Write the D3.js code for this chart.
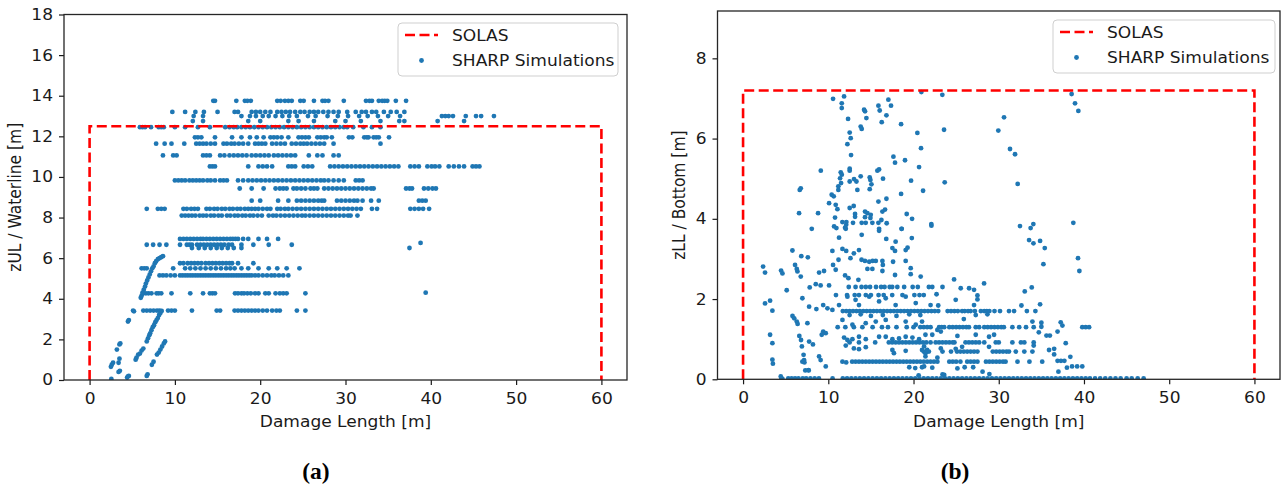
<!DOCTYPE html>
<html><head><meta charset="utf-8">
<script src="https://cdn.jsdelivr.net/npm/d3@7"></script>
<style>body{margin:0;background:#fff}svg{display:block}</style>
</head><body>
<svg id="c" width="1284" height="490"></svg>
<script>
// ---------- DATA ----------
const xTicks = [0, 10, 20, 30, 40, 50, 60];
const zulTicks = [0, 2, 4, 6, 8, 10, 12, 14, 16, 18];
const zllTicks = [0, 2, 4, 6, 8];
const solasLenX = [0, 0, 60, 60];
const solasZulY = [0, 12.5, 12.5, 0];
const solasZllY = [0, 7.2, 7.2, 0];
const legendLabels = ["SOLAS", "SHARP Simulations"];
const panelLetters = ["(a)", "(b)"];
const axisLabels = ["Damage Length [m]", "zUL / Waterline [m]", "zLL / Bottom [m]"];

// (a) zUL: horizontal bands of simulations (level, damage lengths)
const zulLevels = [13.75, 13.2, 13.0, 12.75, 12.45, 11.95, 11.64, 11.06, 10.52, 9.83, 9.43, 8.83, 8.43, 8.1, 6.95, 6.66, 6.5, 5.75, 5.5, 5.15, 4.27, 3.42];
const zulRowsX = [
  [14.5, 14.7, 17.2, 18.2, 18.5, 18.9, 22.0, 22.4, 22.9, 23.3, 23.7, 24.7, 25.1, 26.3, 27.3, 27.6, 28.0, 29.8, 32.4, 32.8, 33.1, 33.9, 34.3, 34.6, 34.9, 35.9, 37.1],
  [9.7, 11.2, 12.4, 13.4, 15.0, 17.0, 17.4, 19.0, 19.5, 20.0, 20.6, 21.2, 22.0, 22.5, 23.0, 23.5, 24.1, 24.7, 25.2, 25.8, 26.3, 26.8, 27.4, 28.0, 28.6, 29.2, 30.2, 31.2, 31.9, 32.4, 33.1, 33.6, 34.5, 35.3, 36.0, 36.9],
  [12.2, 13.3, 17.8, 18.8, 19.5, 20.3, 21.0, 21.8, 22.6, 23.4, 24.3, 25.6, 26.5, 27.9, 29.1, 30.3, 31.6, 32.6, 33.8, 35.0, 36.4, 41.3, 41.7, 42.1, 42.6, 44.1, 45.3, 45.9, 47.4],
  [12.1, 13.3, 18.6, 20.0, 23.3, 24.5, 26.3, 28.8, 30.0, 31.8, 34.1, 36.3, 36.9, 40.8, 43.9],
  [5.9, 6.2, 6.5, 7.2, 8.1, 8.4, 8.7, 10.0, 11.2, 12.7, 14.1, 15.9, 16.4, 16.9, 17.3, 17.8, 18.3, 18.8, 19.3, 19.8, 20.3, 20.8, 21.3, 21.8, 22.3, 22.8, 23.3, 23.8, 24.3, 24.8, 25.3, 25.8, 26.3, 26.8, 27.3, 27.8, 28.3, 28.8, 29.3, 29.8, 30.2, 30.9, 32.1, 33.1, 34.1],
  [12.35, 12.7, 13.1, 14.7, 16.7, 17.8, 18.8, 19.6, 20.4, 21.2, 21.6, 22.0, 22.5, 23.3, 24.5, 24.9, 25.3, 25.7, 26.7, 27.1, 27.5, 27.8, 28.4, 30.4, 30.8, 32.2, 32.5, 32.7, 33.3, 33.6, 33.9, 35.1],
  [7.8, 8.8, 9.6, 11.1, 12.5, 12.9, 13.3, 13.7, 14.2, 14.7, 15.7, 16.1, 16.6, 17.0, 17.5, 18.0, 18.6, 19.4, 19.8, 20.2, 20.6, 21.4, 21.9, 22.4, 22.9, 23.7, 24.2, 24.7, 25.1, 25.5, 26.0, 26.5, 27.0, 27.5, 28.6, 34.1],
  [8.6, 9.8, 10.2, 13.3, 13.7, 14.1, 15.3, 15.8, 16.4, 16.9, 17.4, 17.9, 18.4, 19.0, 19.5, 20.0, 20.5, 21.0, 21.6, 22.1, 22.6, 23.1, 23.6, 24.1, 25.7, 26.7, 27.3, 28.6, 29.2],
  [14.1, 14.4, 14.7, 18.6, 19.8, 20.3, 20.8, 21.4, 23.3, 23.7, 24.1, 25.1, 25.6, 26.1, 28.2, 28.7, 29.2, 29.7, 30.2, 30.7, 31.2, 31.7, 32.2, 32.7, 33.2, 33.7, 34.2, 34.7, 35.2, 35.7, 36.2, 37.6, 38.1, 38.6, 39.6, 40.1, 40.5, 41.0, 42.1, 42.7, 43.3, 43.9, 44.9, 45.3, 45.7],
  [10.0, 10.4, 10.8, 11.2, 11.7, 12.1, 12.5, 12.9, 13.3, 13.8, 14.2, 14.7, 15.3, 15.7, 16.1, 17.4, 18.0, 18.6, 19.1, 19.6, 20.1, 20.6, 21.1, 21.6, 22.1, 22.6, 23.1, 23.6, 24.1, 24.6, 25.1, 25.6, 26.1, 26.6, 27.1, 27.5, 28.0, 28.6, 29.2, 29.8, 31.2, 31.6, 32.0],
  [17.6, 19.0, 20.4, 21.8, 22.3, 22.7, 23.1, 23.9, 24.3, 24.8, 25.3, 25.9, 26.3, 26.7, 27.5, 28.0, 28.5, 29.0, 29.5, 30.0, 30.5, 31.0, 31.5, 32.0, 32.5, 33.0, 33.3, 37.1, 37.5, 37.8, 39.2, 39.7, 40.2, 40.6],
  [19.0, 20.0, 22.1, 23.3, 24.3, 24.8, 25.3, 25.8, 26.3, 26.8, 27.2, 27.5, 29.0, 29.5, 30.0, 30.5, 31.0, 31.4, 32.0, 33.0, 33.9, 38.6, 39.0, 39.4],
  [6.7, 8.0, 8.4, 8.8, 11.0, 11.4, 11.9, 12.3, 12.7, 13.7, 14.1, 14.6, 15.0, 15.5, 15.9, 16.4, 16.8, 17.3, 17.7, 18.2, 18.6, 19.0, 19.4, 19.8, 20.3, 20.8, 21.2, 22.0, 22.4, 22.9, 23.3, 23.8, 24.3, 24.8, 25.3, 25.8, 26.3, 26.8, 27.3, 27.8, 28.3, 28.8, 29.3, 29.8, 30.3, 30.8, 31.3, 31.8, 33.1, 33.7, 37.6, 38.1, 38.6, 39.1, 39.8],
  [10.8, 11.2, 11.6, 12.0, 12.4, 12.9, 13.3, 13.7, 14.2, 14.6, 15.1, 15.5, 16.1, 16.5, 17.0, 17.4, 17.9, 18.3, 18.8, 19.2, 19.7, 20.2, 21.0, 21.5, 21.9, 22.4, 22.9, 23.4, 23.9, 24.4, 24.9, 25.3, 25.8, 26.3, 26.8, 27.3, 27.8, 28.3, 28.8, 29.3, 29.8, 30.3, 30.6, 31.4],
  [10.6, 11.0, 11.4, 11.8, 12.2, 12.6, 13.0, 13.3, 13.7, 14.1, 14.5, 14.9, 15.3, 15.7, 16.1, 16.5, 16.8, 17.1, 17.4, 18.0, 18.6, 19.8, 20.8, 22.1],
  [6.7, 7.45, 8.2, 9.0, 10.6, 11.4, 11.7, 12.0, 12.6, 13.0, 13.4, 13.8, 14.2, 14.6, 15.0, 15.4, 15.8, 16.3, 16.7, 17.8, 19.2, 21.0, 23.7],
  [12.0, 12.8, 13.5, 14.2, 14.9, 15.5, 16.2, 16.9, 17.8],
  [10.6, 11.0, 11.5, 11.9, 12.3, 12.7, 13.1, 13.6, 14.0, 14.4, 14.8, 15.2, 15.6, 16.0, 16.4, 16.7, 17.4, 19.2],
  [6.1, 6.4, 6.7, 9.8, 11.2, 11.8, 12.4, 13.0, 13.6, 14.2, 14.8, 15.4, 16.0, 16.5, 17.0, 17.8, 18.6, 19.8, 21.0, 22.0, 23.1, 24.6],
  [8.2, 8.6, 9.0, 9.5, 10.0, 10.6, 10.9, 11.2, 11.5, 11.8, 12.1, 12.4, 12.7, 13.0, 13.3, 13.6, 13.9, 14.2, 14.5, 14.8, 15.1, 15.4, 15.7, 16.0, 16.3, 16.6, 16.9, 17.2, 17.5, 17.8, 18.1, 18.4, 18.7, 19.0, 19.4, 19.8, 20.3, 20.8, 21.3, 21.7, 22.2, 22.7, 23.3],
  [6.3, 6.6, 6.9, 7.25, 7.85, 8.1, 8.4, 9.6, 11.8, 13.3, 14.1, 14.4, 14.7, 17.05, 17.4, 17.8, 18.1, 18.5, 18.9, 19.4, 19.8, 20.6, 21.0, 21.8, 22.3, 22.7, 23.1, 25.3],
  [5.1, 6.3, 6.7, 7.1, 7.5, 7.9, 8.2, 9.2, 9.6, 10.0, 12.0, 14.9, 15.3, 17.0, 17.4, 17.8, 18.2, 18.6, 19.0, 19.4, 19.8, 20.3, 20.8, 21.4, 21.9, 22.3, 24.3, 25.3]
];
// (a) zUL: short damages rising with length, plus outliers [length, zUL]
const zulLoose = [
  [6.0, 4.05], [6.1, 4.15], [6.2, 4.3], [6.35, 4.45], [6.5, 4.6], [6.6, 4.75], [6.75, 4.9], [6.9, 5.05], [7.05, 5.2], [7.2, 5.35], [7.35, 5.5], [7.5, 5.6], [7.65, 5.75], [7.8, 5.85], [8.0, 5.95], [8.2, 6.0], [8.4, 6.05], [8.6, 6.1],
  [4.5, 2.88], [4.6, 2.95], [5.2, 3.38],
  [6.7, 1.9], [6.85, 2.05], [7.0, 2.2], [7.1, 2.3], [7.25, 2.45], [7.4, 2.6], [7.55, 2.7], [7.7, 2.85], [7.85, 2.95], [8.0, 3.05], [8.15, 3.2], [8.3, 3.3], [8.45, 3.4],
  [6.7, 0.2], [6.8, 0.28], [7.3, 0.75], [7.5, 0.9], [7.9, 1.25], [8.1, 1.35], [8.3, 1.5], [8.5, 1.65], [8.7, 1.8], [8.85, 1.9],
  [5.4, 1.0], [5.5, 1.1], [5.7, 1.25], [5.9, 1.3], [6.1, 1.45], [6.3, 1.55],
  [2.5, 0.65], [2.6, 0.75], [2.75, 0.85], [3.2, 1.5], [3.5, 1.75], [3.6, 1.8], [3.5, 1.05], [3.4, 0.85], [3.55, 0.45], [3.4, 0.4], [2.55, 0.05], [4.4, 0.12], [4.5, 0.18], [4.6, 0.2],
  [37.5, 6.5], [38.8, 6.75], [39.4, 4.3]
];

// (b) zLL: bands (level, damage lengths)
const zllLevels = [0.02, 0.44, 0.69, 0.92, 1.3, 1.7, 2.3, 2.1];
const zllRowsX = [
  [4.5, 5.3, 5.7, 6.1, 6.5, 7.0, 7.4, 7.9, 8.4, 8.9, 10.5, 11.7, 12.2, 12.7, 13.2, 13.7, 14.2, 14.7, 15.2, 15.7, 16.2, 16.7, 17.2, 17.7, 18.2, 18.7, 19.2, 19.7, 20.2, 20.7, 21.2, 21.7, 22.2, 22.7, 23.2, 23.7, 24.2, 24.7, 25.2, 25.7, 26.2, 26.7, 27.2, 27.7, 28.2, 28.7, 29.2, 29.7, 30.2, 30.7, 31.2, 31.7, 32.2, 32.7, 33.2, 33.7, 34.2, 34.7, 35.2, 35.7, 36.2, 36.7, 37.2, 37.7, 38.2, 38.7, 39.2, 39.7, 40.2, 40.7, 41.3, 41.9, 42.5, 43.1, 43.7, 44.3, 45.0, 45.6, 46.3, 47.0],
  [12.8, 13.2, 13.6, 14.0, 14.4, 14.8, 15.2, 15.6, 16.0, 16.4, 16.8, 17.2, 17.6, 18.0, 18.4, 18.8, 19.2, 19.6, 20.0, 20.4, 20.8, 21.2, 21.6, 22.0, 22.4, 22.8, 24.2, 24.6, 25.0, 25.5, 26.3, 26.7, 27.1, 27.5, 28.5, 28.9, 29.3, 29.7, 30.1, 30.5, 30.8, 32.2, 33.6, 35.1],
  [21.2, 21.5, 21.8, 23.4, 24.4, 25.1, 25.5, 25.9, 26.3, 26.7, 27.1, 27.5, 29.3, 29.7, 30.1, 30.5, 30.9, 31.2, 32.0, 33.0, 33.95],
  [12.5, 13.6, 15.5, 17.1, 17.5, 17.9, 18.3, 18.7, 19.1, 19.5, 19.9, 20.3, 20.7, 21.1, 21.5, 22.0, 22.6, 23.0, 23.4, 23.8, 24.2, 24.6, 24.8, 26.1, 26.5, 26.9, 27.3, 27.7, 28.3, 29.65, 30.0, 31.6, 32.6, 33.0, 34.1],
  [11.1, 12.0, 13.0, 14.0, 15.2, 16.3, 17.0, 18.0, 19.2, 20.0, 20.8, 21.2, 21.6, 22.0, 23.0, 23.3, 23.6, 24.2, 24.6, 25.0, 25.4, 25.8, 26.2, 26.5, 27.3, 27.7, 28.3, 28.7, 29.1, 29.5, 29.9, 30.3, 30.6, 31.6, 32.4, 33.2, 34.1, 39.8, 40.2, 40.6],
  [11.7, 12.1, 12.5, 12.9, 13.3, 13.7, 14.1, 14.5, 14.9, 15.3, 15.7, 16.1, 16.5, 16.9, 17.3, 17.7, 18.1, 18.5, 18.9, 19.3, 19.7, 20.1, 20.5, 20.9, 21.3, 21.7, 22.1, 22.5, 22.9, 24.0, 24.4, 24.8, 25.2, 25.7, 26.0, 26.4, 26.7, 27.2, 27.9, 28.3, 28.6, 28.9, 29.5, 30.15, 31.2, 31.8, 33.3, 34.3],
  [12.4, 13.2, 13.9, 14.4, 14.9, 15.6, 16.2, 16.6, 17.2, 17.5, 18.1, 18.9, 19.9, 20.5, 21.8, 22.2, 23.4],
  [10.9, 12.2, 13.1, 13.6, 14.4, 15.0, 15.9, 16.5, 17.5, 18.7, 20.1, 20.7]
];
// (b) zLL: scattered simulations [length, zLL]
const zllLoose = [
  [2.35, 2.81], [2.58, 2.66], [2.58, 1.89], [3.17, 1.96], [3.44, 1.71], [3.17, 1.11], [3.44, 0.9], [3.44, 0.49], [3.5, 0.39],
  [4.46, 2.71], [4.62, 2.64], [5.12, 2.22], [5.79, 3.21], [6.1, 2.85], [6.3, 2.75], [6.83, 3.07], [7.6, 3.04],
  [5.8, 1.58], [6.0, 1.52], [6.3, 1.44], [6.4, 1.38], [6.6, 1.08], [6.8, 0.98], [6.9, 0.82], [7.1, 0.61], [7.2, 0.42], [7.3, 0.22], [7.7, 0.22],
  [8.06, 3.75], [4.42, 0.07], [4.62, 0.01], [6.38, 2.69], [6.77, 2.56], [8.92, 2.66], [9.5, 2.7],
  [7.82, 2.29], [8.53, 2.37], [9.1, 2.34], [10.09, 2.34], [6.96, 2.02], [7.75, 1.81], [8.6, 1.75], [9.4, 1.85], [9.9, 1.77], [10.48, 1.73], [11.26, 1.85],
  [7.55, 1.4], [9.4, 1.19], [9.7, 1.15], [7.75, 0.94], [8.2, 0.87], [9.23, 1.11], [6.96, 0.44], [7.16, 0.48], [8.92, 0.57], [9.1, 0.48], [9.7, 0.32], [7.67, 0.23],
  [6.77, 4.76], [6.65, 4.72], [6.57, 4.14], [9.12, 5.2], [8.8, 4.14],
  [10.95, 3.77], [12.05, 3.75], [12.1, 3.85], [15.96, 3.7], [18.6, 3.75], [11.26, 3.53], [13.92, 3.6], [16.8, 3.5], [17.9, 3.43], [19.8, 3.52],
  [10.48, 3.2], [11.66, 3.25], [12.1, 3.2], [13.0, 3.14], [13.6, 3.22], [17.52, 3.27], [17.83, 3.2], [19.08, 3.22], [19.3, 3.28],
  [11.2, 2.98], [12.6, 3.02], [13.9, 2.98], [14.3, 2.95], [14.8, 2.93], [15.2, 2.95], [15.57, 2.95], [16.35, 2.95], [16.4, 2.85], [19.08, 2.95], [17.6, 2.93],
  [10.56, 2.85], [10.87, 2.73], [11.97, 2.59], [12.36, 2.52], [13.53, 2.48], [14.59, 2.75], [15.17, 2.75], [16.35, 2.7], [17.83, 2.6], [19.67, 2.77], [19.67, 2.62], [20.84, 2.56],
  [12.24, 2.06], [13.2, 1.98], [13.6, 1.85], [14.8, 2.06], [15.96, 1.94], [16.74, 2.02], [17.9, 1.85], [19.08, 2.06], [20.26, 1.9], [21.2, 2.1],
  [12.5, 1.6], [13.8, 1.62], [15.0, 1.58], [16.4, 1.6], [18.0, 1.58], [19.5, 1.62], [20.8, 1.6],
  [11.66, 1.48], [12.83, 1.36], [14.39, 1.4], [15.57, 1.44], [16.74, 1.48], [19.08, 1.44], [20.26, 1.36], [21.0, 1.44],
  [11.85, 1.04], [12.24, 0.98], [12.83, 1.0], [13.6, 1.06], [14.4, 1.0], [15.96, 1.06], [16.74, 1.06], [17.52, 1.0], [18.3, 1.02], [19.08, 1.06], [19.87, 1.04], [20.65, 1.0],
  [12.05, 0.84], [13.0, 0.77], [13.6, 0.75], [14.4, 0.8], [17.52, 0.73], [17.7, 0.65], [19.08, 0.71], [21.0, 0.73], [21.4, 0.65],
  [11.66, 0.44], [12.1, 0.42], [19.5, 0.3], [20.2, 0.28], [21.0, 0.3], [20.6, 0.1], [23.4, 0.12],
  [22.1, 3.83], [33.56, 3.47], [34.07, 3.39], [34.85, 3.45], [35.4, 3.27], [39.3, 3.02], [39.46, 2.7], [35.24, 2.87],
  [24.76, 2.49], [28.28, 2.39], [25.54, 2.27], [26.52, 2.27], [27.1, 2.23], [22.7, 2.12], [24.95, 1.98], [27.5, 2.09], [27.5, 1.99], [22.0, 1.85], [22.9, 1.84], [27.1, 1.85],
  [33.87, 2.29], [33.05, 2.19], [32.66, 1.84], [34.85, 1.87], [27.3, 1.6], [28.67, 1.62], [25.9, 1.5], [33.95, 1.44], [35.0, 1.41], [35.0, 1.31], [37.27, 1.42], [37.47, 1.34],
  [34.7, 1.17], [35.6, 1.09], [36.0, 1.09], [36.9, 1.19], [21.4, 1.11], [22.2, 1.11], [22.8, 1.23], [23.2, 1.19], [25.15, 1.08], [27.3, 1.11], [28.86, 1.06], [29.45, 1.11],
  [34.1, 0.84], [37.86, 0.9], [21.24, 0.82], [21.6, 0.73], [23.2, 0.77], [24.95, 0.76], [25.7, 0.81], [28.86, 0.81], [35.9, 0.73], [36.5, 0.76], [36.5, 0.62],
  [21.4, 0.57], [22.8, 0.54], [38.4, 0.56], [36.9, 0.46], [37.3, 0.46], [37.7, 0.46], [37.0, 0.19], [23.6, 0.11], [28.1, 0.19], [28.9, 0.13],
  [21.24, 0.32], [22.2, 0.29], [25.15, 0.27], [26.0, 0.3], [27.0, 0.3], [38.0, 0.29], [38.6, 0.32], [39.2, 0.32], [39.8, 0.32],
  [10.56, 6.99], [11.85, 7.05], [11.58, 6.88], [11.58, 6.76], [12.32, 6.49], [14.2, 6.72], [14.31, 6.68], [14.47, 6.51], [15.88, 6.82], [16.03, 6.7], [17.05, 6.97], [17.36, 6.82], [16.82, 6.58], [16.27, 6.41], [13.8, 6.3], [13.92, 6.24], [12.51, 6.15], [12.63, 6.01], [12.24, 5.86], [12.67, 5.59], [18.54, 6.36], [20.45, 6.14], [20.88, 5.76], [17.64, 5.55], [17.83, 5.4], [19.0, 5.46], [20.65, 5.29], [23.58, 6.22], [23.38, 7.09], [20.92, 7.16], [30.62, 6.53], [29.95, 6.2], [31.32, 5.74], [31.91, 5.61], [32.22, 4.87], [23.66, 4.91], [21.12, 4.7], [19.71, 4.95], [18.54, 4.62], [16.82, 4.5], [15.88, 4.43],
  [11.46, 5.16], [11.58, 5.1], [11.38, 5.01], [11.5, 4.89], [11.18, 4.81], [11.18, 4.72], [12.51, 5.25], [12.51, 5.2], [12.51, 4.93], [13.02, 4.99], [13.3, 4.93], [13.8, 5.06], [14.86, 5.03], [14.94, 4.97], [15.06, 4.86], [14.86, 4.74], [15.76, 5.2], [15.96, 5.23], [16.42, 5.0], [13.41, 4.72],
  [10.4, 4.6], [10.64, 4.56], [10.09, 4.39], [10.87, 4.35], [11.07, 4.24], [12.98, 4.32], [12.51, 4.27], [10.79, 4.03], [13.14, 4.12], [13.14, 4.05], [14.31, 4.18], [14.59, 4.14], [14.98, 4.1], [14.94, 4.02], [14.31, 4.04], [16.35, 4.18], [16.66, 4.23], [16.23, 3.97], [16.85, 3.89], [19.2, 4.12], [19.83, 4.0], [22.09, 3.87],
  [11.65, 3.92], [12.12, 3.92], [12.9, 3.9], [13.92, 3.9], [14.39, 3.9], [15.17, 3.9], [15.88, 3.9], [10.68, 3.81], [11.97, 3.78], [15.96, 3.75], [18.61, 3.75],
  [32.49, 3.82], [33.74, 3.77], [34.06, 3.87], [38.75, 3.9], [38.55, 7.11], [38.95, 6.88], [39.34, 6.69]
];

// ---------- DRAWING ----------
const svg = d3.select("#c");
const FONT = "'DejaVu Sans', sans-serif";
const FS = 15.5, SX = 1.1;       // font size, horizontal stretch of the original figure
const INK = "#1a1a1a", BLUE = "#1f77b4", RED = "#ff0000";

function stretchedText(g, x, y, str, anchor, rot) {
  return g.append("text")
    .attr("transform", `translate(${x},${y})` + (rot ? ` rotate(${rot}) scale(1,${SX})` : ` scale(${SX},1)`))
    .attr("text-anchor", anchor).attr("font-family", FONT).attr("font-size", FS)
    .attr("fill", INK).text(str);
}

function panel(cfg) {
  const g = svg.append("g");
  const x = d3.scaleLinear().domain([-3, 63]).range([cfg.l, cfg.r]);
  const y = d3.scaleLinear().domain(cfg.yDomain).range([cfg.b, cfg.t]);

  svg.append("clipPath").attr("id", cfg.id).append("rect")
    .attr("x", cfg.l).attr("y", cfg.t).attr("width", cfg.r - cfg.l).attr("height", cfg.b - cfg.t);
  const plot = g.append("g").attr("clip-path", `url(#${cfg.id})`);

  const pts = cfg.levels.flatMap((lv, i) => cfg.rowsX[i].map(v => [v, lv])).concat(cfg.loose);
  plot.selectAll("circle").data(pts).join("circle")
    .attr("cx", d => x(d[0])).attr("cy", d => y(d[1])).attr("r", 2.4).attr("fill", BLUE);

  plot.append("path").datum(d3.zip(solasLenX, cfg.solasY))
    .attr("d", d3.line().x(d => x(d[0])).y(d => y(d[1])))
    .attr("fill", "none").attr("stroke", RED).attr("stroke-width", 2.6).attr("stroke-dasharray", "10,4.5");

  // axes
  const gx = g.append("g").attr("transform", `translate(0,${cfg.b})`)
    .call(d3.axisBottom(x).tickValues(xTicks).tickSize(5).tickPadding(8).tickSizeOuter(0));
  const gy = g.append("g").attr("transform", `translate(${cfg.l},0)`)
    .call(d3.axisLeft(y).tickValues(cfg.yTicks).tickSize(5).tickPadding(6).tickSizeOuter(0));
  [gx, gy].forEach(a => {
    a.select(".domain").remove();
    a.selectAll(".tick line").attr("stroke", INK).attr("stroke-width", 1.2);
    a.selectAll(".tick text").attr("font-family", FONT).attr("font-size", FS).attr("fill", INK);
  });
  gx.selectAll(".tick text").attr("transform", `scale(${SX},1)`);
  gy.selectAll(".tick text").attr("x", -11 / SX).attr("transform", `scale(${SX},1)`);

  g.append("rect").attr("x", cfg.l).attr("y", cfg.t).attr("width", cfg.r - cfg.l).attr("height", cfg.b - cfg.t)
    .attr("fill", "none").attr("stroke", "#262626").attr("stroke-width", 1.3);

  stretchedText(g, (cfg.l + cfg.r) / 2, 427, axisLabels[0], "middle");
  stretchedText(g, cfg.ylabX, (cfg.t + cfg.b) / 2, cfg.ylabel, "middle", -90);

  // legend
  const L = cfg.leg;
  g.append("rect").attr("x", L.x).attr("y", L.y).attr("width", L.w).attr("height", L.h).attr("rx", 4)
    .attr("fill", "#fff").attr("fill-opacity", 0.8).attr("stroke", "#cfcfcf").attr("stroke-width", 1);
  g.append("line").attr("x1", L.x + 7).attr("x2", L.x + 40).attr("y1", L.y + 12).attr("y2", L.y + 12)
    .attr("stroke", RED).attr("stroke-width", 2.6).attr("stroke-dasharray", "10,4.5");
  g.append("circle").attr("cx", L.x + 23.5).attr("cy", L.y + 37.5).attr("r", 2.4).attr("fill", BLUE);
  stretchedText(g, L.x + 54, L.y + 17.5, legendLabels[0], "start");
  stretchedText(g, L.x + 54, L.y + 42.5, legendLabels[1], "start");

  g.append("text").attr("x", cfg.letterX).attr("y", 479).attr("text-anchor", "middle")
    .attr("font-family", "'Liberation Serif', 'Times New Roman', serif").attr("font-weight", "bold")
    .attr("font-size", 23.5).attr("fill", "#000").text(cfg.letter);
}

panel({ id: "clipA", l: 64, r: 627, t: 14.5, b: 380, yDomain: [0, 18], yTicks: zulTicks,
  levels: zulLevels, rowsX: zulRowsX, loose: zulLoose, solasY: solasZulY,
  ylabel: axisLabels[1], ylabX: 21, leg: { x: 398, y: 23, w: 220, h: 53 }, letter: panelLetters[0], letterX: 316 });
panel({ id: "clipB", l: 717.5, r: 1280, t: 11, b: 379.3, yDomain: [0, 9.18], yTicks: zllTicks,
  levels: zllLevels, rowsX: zllRowsX, loose: zllLoose, solasY: solasZllY,
  ylabel: axisLabels[2], ylabX: 685, leg: { x: 1053, y: 20, w: 222, h: 53 }, letter: panelLetters[1], letterX: 955 });
</script>
</body></html>
